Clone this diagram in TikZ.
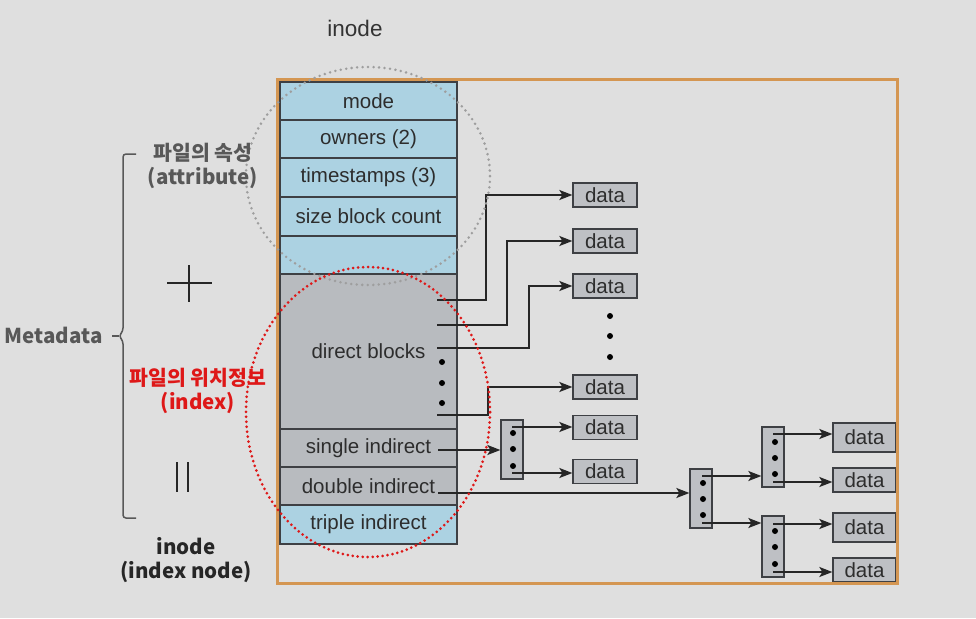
\documentclass[tikz,border=0pt]{standalone}
\usepackage{fontspec}
\setmainfont{Liberation Sans}
\newfontfamily\kr{Noto Sans CJK KR}
\usetikzlibrary{arrows.meta}
\definecolor{bg}{RGB}{223,223,223}
\definecolor{frameorange}{RGB}{212,150,82}
\definecolor{rowblue}{RGB}{172,210,226}
\definecolor{rowgray}{RGB}{184,187,191}
\definecolor{boxgray}{RGB}{190,192,196}
\definecolor{edge}{RGB}{62,64,68}
\definecolor{labelgray}{RGB}{88,88,88}
\definecolor{idxred}{RGB}{222,24,24}
\definecolor{txt}{RGB}{45,45,45}
\tikzset{
  row/.style={draw=edge, line width=1.3pt, minimum width=177pt, inner sep=0pt,
    text=txt, font=\fontsize{20.5}{23}\selectfont},
  bluerow/.style={row, fill=rowblue, minimum height=38pt},
  grayrow/.style={row, fill=rowgray, minimum height=38pt},
  datab/.style={draw=edge, fill=boxgray, line width=1.3pt, minimum width=64pt,
    minimum height=24pt, inner sep=0pt, text=txt, font=\fontsize{20.5}{23}\selectfont},
  ib/.style={draw=edge, fill=boxgray, line width=1.3pt, minimum width=22pt,
    minimum height=59pt, inner sep=0pt},
  arr/.style={line width=1.7pt, draw=black!85, -{Stealth[length=13pt,width=10pt,inset=3pt]}},
  dot/.style={fill=black},
  klabel/.style={font=\kr\bfseries\fontsize{20.5}{24}\selectfont, align=center},
}
\begin{document}
\begin{tikzpicture}[x=1pt,y=-1pt]
\fill[bg] (0,0) rectangle (976,618);
\useasboundingbox (0,0) rectangle (976,618);

% title
\node[text=black!80, font=\fontsize{22.5}{24}\selectfont] (title) at (355,28) {inode};

% inode table
\node[bluerow] (mode)  at (368.5,101)   {mode};
\node[bluerow] (owners) at (368.5,139)  {owners (2)};
\node[bluerow, minimum height=39pt] (times) at (368.5,177.5) {timestamps (3)};
\node[bluerow, minimum height=39pt] (size) at (368.5,216.5) {size block count};
\node[bluerow] (blank) at (368.5,255) {};
\node[row, fill=rowgray, minimum height=155pt] (direct) at (368.5,351.5) {direct blocks};
\node[grayrow] (single) at (368.5,448) {single indirect};
\node[grayrow] (double) at (368.5,486) {double indirect};
\node[bluerow, minimum height=39pt] (triple) at (368.5,524.5) {triple indirect};

% direct data boxes
\node[datab] (data1) at (605,195) {data};
\node[datab] (data2) at (605,241) {data};
\node[datab] (data3) at (605,286) {data};
\node[datab] (data4) at (605,387) {data};
\node[datab] (data5) at (605,427.5) {data};
\node[datab] (data6) at (605,471.5) {data};

% index blocks
\node[ib] (I1) at (512,449.5) {};
\node[ib] (I2) at (701,498.5) {};
\node[ib, minimum height=60pt] (I3) at (773,457) {};
\node[ib, minimum height=61pt] (I4) at (773,546.5) {};

% right data boxes
\node[datab, minimum width=63pt, minimum height=29pt] (dA) at (864.5,437.5) {data};
\node[datab, minimum width=63pt] (dB) at (864.5,480) {data};
\node[datab, minimum width=63pt, minimum height=29pt] (dC) at (864.5,527.5) {data};
\node[datab, minimum width=63pt] (dD) at (864.5,570) {data};

% dots
\foreach \y in {362,383,403} \fill[dot] (442,\y) circle (3pt);
\foreach \y in {316,336,357} \fill[dot] (610,\y) circle (3pt);
\foreach \y in {433,449,466} \fill[dot] (513,\y) circle (3pt);
\foreach \y in {483,499,515} \fill[dot] (703,\y) circle (3pt);
\foreach \y in {442,458,474} \fill[dot] (775,\y) circle (3pt);
\foreach \y in {531,547,564} \fill[dot] (775,\y) circle (3pt);

% connectors from direct blocks
\coordinate (p1) at (437,300);
\coordinate (p2) at (437,325);
\coordinate (p3) at (437,348);
\coordinate (p4) at (437,415);
\draw[arr] (p1) -- ++(49,0) |- (data1.west);
\draw[arr] (p2) -- ++(70,0) |- (data2.west);
\draw[arr] (p3) -- ++(92,0) |- (data3.west);
\draw[arr] (p4) -- ++(51,0) |- (data4.west);

% single / double indirect
\coordinate (s1) at (438,450);
\coordinate (s2) at (438,493);
\draw[arr] (s1) -- (s1 -| I1.west);
\draw[arr] (s2) -- (s2 -| I2.west);

% from index blocks
\coordinate (a1) at (512,427);
\coordinate (a2) at (512,473);
\draw[arr] (a1) -- (a1 -| data5.west);
\draw[arr] (a2) -- (a2 -| data6.west);
\coordinate (b1) at (702,476);
\coordinate (b2) at (702,523);
\draw[arr] (b1) -- (b1 -| I3.west);
\draw[arr] (b2) -- (b2 -| I4.west);
\coordinate (c1) at (773,434);
\coordinate (c2) at (773,482);
\coordinate (c3) at (773,524);
\coordinate (c4) at (773,572);
\draw[arr] (c1) -- (c1 -| dA.west);
\draw[arr] (c2) -- (c2 -| dB.west);
\draw[arr] (c3) -- (c3 -| dC.west);
\draw[arr] (c4) -- (c4 -| dD.west);

% frame
\draw[frameorange, line width=3pt] (277,79) rectangle (897,583);

% dotted ellipses
\draw[black!38, line width=2.8pt, line cap=round, dash pattern=on 0pt off 5.5pt]
  (368,176) ellipse [x radius=122pt, y radius=109pt];
\draw[idxred, line width=3pt, line cap=round, dash pattern=on 0pt off 5pt]
  (368,412) ellipse [x radius=122pt, y radius=145pt];

% left side labels
\node[klabel, text=labelgray] (attr) at (203,166) {파일의 속성\\(attribute)};
\node[klabel, text=labelgray, anchor=east] (meta) at (106,335) {Metadata};
\node[klabel, text=idxred] (idx) at (198,391) {파일의 위치정보\\(index)};
\node[klabel, text=black!85] (inode) at (186,560) {inode\\(index node)};

% brace
\draw[labelgray, line width=1.5pt, rounded corners=3pt]
  (136,154) -- (123,154) -- (123,331) -- (119,336) -- (123,341) -- (123,518) -- (136,518);
\draw[labelgray, line width=1.5pt] (112,336) -- (119,336);

% plus and equals-bars
\draw[black!85, line width=2.8pt] (167,283) -- (212,283) (189,265) -- (189,302);
\draw[black!85, line width=2.8pt] (177,462) -- (177,492) (188,462) -- (188,492);
\end{tikzpicture}
\end{document}
